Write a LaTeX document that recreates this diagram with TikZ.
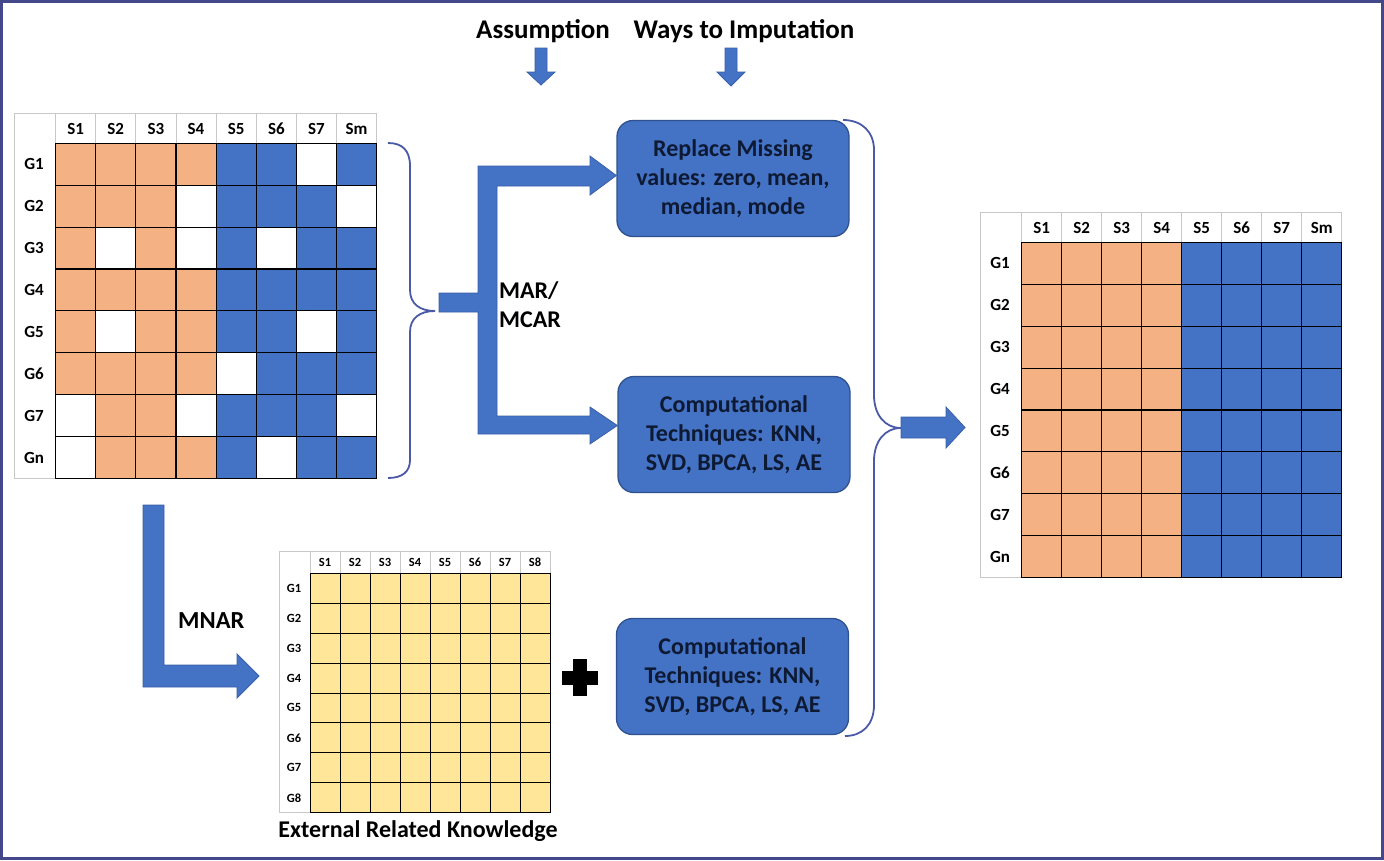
\documentclass[tikz,border=0pt]{standalone}
\usepackage{fontspec}
\setmainfont{Carlito}
\usetikzlibrary{calc}
\definecolor{org}{HTML}{F4B183}
\definecolor{blu}{HTML}{4472C4}
\definecolor{yel}{HTML}{FFE699}
\definecolor{framec}{HTML}{43488A}
\definecolor{bracec}{HTML}{4A5AA6}
\definecolor{boxline}{HTML}{2F528F}
\definecolor{arrline}{HTML}{3A5FA8}
\definecolor{navy}{HTML}{0E1A33}
\definecolor{hdrc}{HTML}{C8C8C8}
\colorlet{cO}{org}
\colorlet{cB}{blu}
\colorlet{cW}{white}
\tikzset{
  hdrline/.style={draw=hdrc, line width=0.9pt},
  gridline/.style={draw=black, line width=1.1pt},
  lab/.style={inner sep=0pt, font=\bfseries\fontsize{17}{19}\selectfont},
  slab/.style={inner sep=0pt, font=\bfseries\fontsize{12.5}{14}\selectfont},
  bigtxt/.style={inner sep=0pt, font=\bfseries\fontsize{27}{32}\selectfont},
  ibox/.style={draw=boxline, line width=1.3pt, fill=blu, rounded corners=16pt,
    minimum width=232pt, minimum height=116pt, align=center, text=navy,
    font=\bfseries\fontsize{24}{29}\selectfont},
  blockarrow/.style={fill=blu, draw=arrline, line width=0.8pt},
  bracepath/.style={draw=bracec, line width=1.8pt},
}
\begin{document}
\begin{tikzpicture}[x=1pt,y=-1pt]
\useasboundingbox (0,0) rectangle (1384,860);
\fill[white] (0,0) rectangle (1384,860);
\draw[framec, line width=3pt] (1.5,1.5) rectangle (1382.5,858.5);

% ---------- top titles ----------
\node[bigtxt] (assum) at (543,31) {Assumption};
\node[bigtxt] (ways) at (744,31) {Ways to Imputation};
\coordinate (a1) at (541,48);
\coordinate (a2) at (731,48);
\path[blockarrow] ($(a1)+(-6,0)$) -- ++(12,0) -- ++(0,24) -- ++(8,0) -- ($(a1)+(0,37)$) -- ($(a1)+(-14,24)$) -- ++(8,0) -- cycle;
\path[blockarrow] ($(a2)+(-6,0)$) -- ++(12,0) -- ++(0,24) -- ++(8,0) -- ($(a2)+(0,38)$) -- ($(a2)+(-14,24)$) -- ++(8,0) -- cycle;

% ---------- left matrix ----------
\def\xa{55.5}\def\ya{143.3}\def\wa{40.15}\def\ha{41.9}
\draw[hdrline] (14.5,113) rectangle (\xa+8*\wa,\ya+8*\ha);
\foreach \i in {0,...,8} \draw[hdrline] (\xa+\i*\wa,113) -- (\xa+\i*\wa,\ya);
\foreach \r/\pat in {1/{cO,cO,cO,cO,cB,cB,cW,cB},2/{cO,cO,cO,cW,cB,cB,cB,cW},3/{cO,cW,cO,cW,cB,cW,cB,cB},4/{cO,cO,cO,cO,cB,cB,cB,cB},5/{cO,cW,cO,cO,cB,cB,cW,cB},6/{cO,cO,cO,cO,cW,cB,cB,cB},7/{cW,cO,cO,cW,cB,cB,cB,cW},8/{cW,cO,cO,cO,cB,cW,cB,cB}}{
  \foreach \c [count=\i] in \pat {
    \fill[\c] (\xa+\i*\wa-\wa,\ya+\r*\ha-\ha) rectangle (\xa+\i*\wa,\ya+\r*\ha);
  }
}
\foreach \i in {0,...,8} {
  \draw[gridline] (\xa+\i*\wa,\ya) -- (\xa+\i*\wa,\ya+8*\ha);
  \draw[gridline] (\xa,\ya+\i*\ha) -- (\xa+8*\wa,\ya+\i*\ha);
}
\foreach \t [count=\i] in {S1,S2,S3,S4,S5,S6,S7,Sm}
  \node[lab, name=Lc\i] at (\xa+\i*\wa-\wa/2,128.5) {\t};
\foreach \t [count=\i] in {G1,G2,G3,G4,G5,G6,G7,Gn}
  \node[lab, name=Lr\i] at (34,\ya+\i*\ha-\ha/2) {\t};

% ---------- right matrix ----------
\def\xb{1021.7}\def\yb{242.3}\def\wb{40.0}\def\hb{41.92}
\draw[hdrline] (980,212) rectangle (\xb+8*\wb,\yb+8*\hb);
\foreach \i in {0,...,8} \draw[hdrline] (\xb+\i*\wb,212) -- (\xb+\i*\wb,\yb);
\fill[org] (\xb,\yb) rectangle (\xb+4*\wb,\yb+8*\hb);
\fill[blu] (\xb+4*\wb,\yb) rectangle (\xb+8*\wb,\yb+8*\hb);
\foreach \i in {0,...,8} {
  \draw[gridline] (\xb+\i*\wb,\yb) -- (\xb+\i*\wb,\yb+8*\hb);
  \draw[gridline] (\xb,\yb+\i*\hb) -- (\xb+8*\wb,\yb+\i*\hb);
}
\foreach \t [count=\i] in {S1,S2,S3,S4,S5,S6,S7,Sm}
  \node[lab, name=Rc\i] at (\xb+\i*\wb-\wb/2,228) {\t};
\foreach \t [count=\i] in {G1,G2,G3,G4,G5,G6,G7,Gn}
  \node[lab, name=Rr\i] at (1000,\yb+\i*\hb-\hb/2) {\t};

% ---------- yellow matrix ----------
\def\xc{310}\def\yc{573.2}\def\wc{30}\def\hc{29.94}
\draw[hdrline] (279.3,551.7) rectangle (\xc+8*\wc,\yc+8*\hc);
\foreach \i in {0,...,8} \draw[hdrline] (\xc+\i*\wc,551.7) -- (\xc+\i*\wc,\yc);
\fill[yel] (\xc,\yc) rectangle (\xc+8*\wc,\yc+8*\hc);
\foreach \i in {0,...,8} {
  \draw[gridline, line width=0.9pt] (\xc+\i*\wc,\yc) -- (\xc+\i*\wc,\yc+8*\hc);
  \draw[gridline, line width=0.9pt] (\xc,\yc+\i*\hc) -- (\xc+8*\wc,\yc+\i*\hc);
}
\foreach \t [count=\i] in {S1,S2,S3,S4,S5,S6,S7,S8}
  \node[slab, name=Yc\i] at (\xc+\i*\wc-\wc/2,562.5) {\t};
\foreach \t [count=\i] in {G1,G2,G3,G4,G5,G6,G7,G8}
  \node[slab, name=Yr\i] at (294,\yc+\i*\hc-\hc/2) {\t};
\node[bigtxt, font=\bfseries\fontsize{24}{29}\selectfont] (ext) at (418,831) {External Related Knowledge};

% ---------- boxes ----------
\node[ibox] (box1) at (733,178.5) {Replace Missing\\values: zero, mean,\\median, mode};
\node[ibox] (box2) at (734,434.5) {Computational\\Techniques: KNN,\\SVD, BPCA, LS, AE};
\node[ibox] (box3) at (732.5,676.5) {Computational\\Techniques: KNN,\\SVD, BPCA, LS, AE};

% ---------- left brace ----------
\coordinate (lbt) at (388,143);
\coordinate (lbtip) at (435,311);
\coordinate (lbb) at (388,478);
\draw[bracepath] (lbt) .. controls (402,143) and (410,150) .. (410,166) -- (410,290)
  .. controls (410,304) and (420,311) .. (lbtip)
  .. controls (420,311) and (410,318) .. (410,332) -- (410,460)
  .. controls (410,472) and (402,478) .. (lbb);

% ---------- MAR arrow ----------
\coordinate (marstart) at (439,302.5);
\path[blockarrow] (439,293) -- (478,293) -- (478,166) -- (590,166) -- (590,156) -- (box1.west |- 0,175.5) -- (590,195) -- (590,186)
  -- (497,186) -- (497,416) -- (590,416) -- (590,407) -- (box2.west |- 0,425.5) -- (590,444) -- (590,434)
  -- (478,434) -- (478,312) -- (439,312) -- cycle;
\node[bigtxt, anchor=north west, align=left, font=\bfseries\fontsize{24}{29}\selectfont] (mar) at (499,281) {MAR/\\MCAR};

% ---------- MNAR arrow ----------
\path[blockarrow] (143,505) -- (164,505) -- (164,665) -- (237,665) -- (237,654) -- (259,676) -- (237,698) -- (237,687) -- (143,687) -- cycle;
\node[bigtxt, anchor=base west, font=\bfseries\fontsize{24.5}{29}\selectfont] (mnar) at (178,628) {MNAR};

% ---------- plus ----------
\fill[black] (573,659) rectangle (587,696);
\fill[black] (562,670.5) rectangle (598,684.5);

% ---------- right brace ----------
\coordinate (rbt) at (843,120);
\coordinate (rbtip) at (901,428);
\coordinate (rbb) at (845,736);
\draw[bracepath] (rbt) .. controls (862,120) and (874,132) .. (874,150) -- (874,395)
  .. controls (874,415) and (885,428) .. (rbtip)
  .. controls (885,428) and (874,441) .. (874,461) -- (874,705)
  .. controls (874,725) and (862,736) .. (rbb);

% ---------- output arrow ----------
\path[blockarrow] (rbtip |- 0,417) -- (946,417) -- (946,407) -- (965,427.5) -- (946,448) -- (946,438) -- (rbtip |- 0,438) -- cycle;
\end{tikzpicture}
\end{document}
